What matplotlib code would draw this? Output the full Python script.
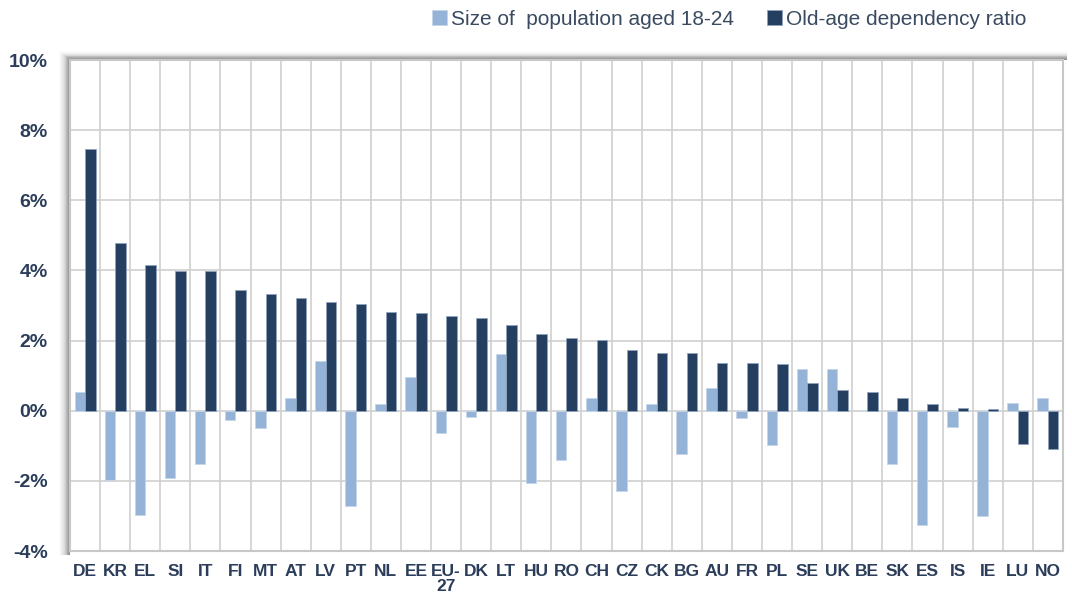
import numpy as np
import matplotlib
matplotlib.use("Agg")
import matplotlib.pyplot as plt
from matplotlib.patches import Rectangle
from matplotlib import font_manager

# Data (% change)
countries = ['DE', 'KR', 'EL', 'SI', 'IT', 'FI', 'MT', 'AT', 'LV', 'PT', 'NL', 'EE',
             'EU-\n27', 'DK', 'LT', 'HU', 'RO', 'CH', 'CZ', 'CK', 'BG', 'AU', 'FR',
             'PL', 'SE', 'UK', 'BE', 'SK', 'ES', 'IS', 'IE', 'LU', 'NO']
pop_18_24 = [0.52, -1.97, -2.98, -1.92, -1.52, -0.27, -0.50, 0.37, 1.43, -2.73, 0.18,
             0.95, -0.64, -0.18, 1.61, -2.07, -1.41, 0.37, -2.29, 0.19, -1.23, 0.66,
             -0.21, -0.99, 1.18, 1.18, 0.0, -1.53, -3.26, -0.47, -3.0, 0.23, 0.37]
old_age_ratio = [7.46, 4.79, 4.16, 3.99, 3.99, 3.44, 3.33, 3.21, 3.10, 3.03, 2.82,
                 2.78, 2.71, 2.64, 2.45, 2.20, 2.06, 2.02, 1.72, 1.65, 1.65, 1.36,
                 1.36, 1.32, 0.78, 0.59, 0.52, 0.37, 0.18, 0.08, 0.05, -0.95, -1.10]
yticks = [-4, -2, 0, 2, 4, 6, 8, 10]

installed = {f.name for f in font_manager.fontManager.ttflist}
narrow = 'Liberation Sans Narrow' if 'Liberation Sans Narrow' in installed else 'Liberation Sans'
plt.rcParams['font.family'] = [narrow, 'DejaVu Sans']

light = '#95b3d7'
dark = '#253f60'
text_col = '#2b3d5a'

fig = plt.figure(figsize=(10.72, 5.96), dpi=100)
ax = fig.add_axes([0.0653, 0.0755, 0.9262, 0.8238])

x = np.arange(len(countries))
w = 0.35
ax.bar(x - w / 2, pop_18_24, w, color=light, edgecolor='#c5d6ea', linewidth=0.6,
       label='Size of  population aged 18-24', zorder=3)
ax.bar(x + w / 2, old_age_ratio, w, color=dark, edgecolor='#8fa3bd', linewidth=0.6,
       label='Old-age dependency ratio', zorder=3)

ax.set_xlim(-0.5, len(countries) - 0.5)
ax.set_ylim(-4, 10)
ax.set_yticks(yticks)
ax.set_yticklabels([f'{t}%' for t in yticks])
ax.set_xticks(x)
ax.set_xticklabels(countries)
ax.set_xticks(np.arange(len(countries) + 1) - 0.5, minor=True)
ax.grid(True, axis='y', which='major', color='#cfcfcf', linewidth=1.2, zorder=0)
ax.grid(True, axis='x', which='minor', color='#cfcfcf', linewidth=1.2, zorder=0)
ax.grid(False, axis='x', which='major')
ax.tick_params(axis='both', which='both', length=0)
ax.tick_params(axis='x', pad=9, labelsize=12.5, labelcolor=text_col)
ax.tick_params(axis='y', pad=16, labelsize=14, labelcolor=text_col)
for lab in ax.get_xticklabels() + ax.get_yticklabels():
    lab.set_fontweight('bold')
    lab.set_linespacing(1.05)
for s in ax.spines.values():
    s.set_color('#c8c8c8')
    s.set_linewidth(1.5)

# soft shadow on the left and top of the plot frame
x0, y0 = 0.0653, 0.0755
x1, y1 = x0 + 0.9262, y0 + 0.8238
steps = 10
for i in range(steps):
    a = 0.10 * (i + 1) / steps
    dx = (steps - i) * 0.0010
    dy = (steps - i) * 0.0015
    fig.patches.append(Rectangle((x0 - dx, y0 - 0.006), dx, y1 - y0 + 0.006 + dy,
                                 transform=fig.transFigure, color='black',
                                 alpha=a, lw=0, zorder=-1))
    fig.patches.append(Rectangle((x0, y1), x1 - x0 + 0.004, dy,
                                 transform=fig.transFigure, color='black',
                                 alpha=a, lw=0, zorder=-1))

ax.legend(loc='upper right', bbox_to_anchor=(0.975, 1.015), bbox_transform=fig.transFigure,
          ncol=2, frameon=False, fontsize=15, handlelength=0.7, handleheight=0.7,
          handletextpad=0.2, columnspacing=1.6, labelcolor='#3a4a60')

fig.savefig('out.png', dpi=100)
